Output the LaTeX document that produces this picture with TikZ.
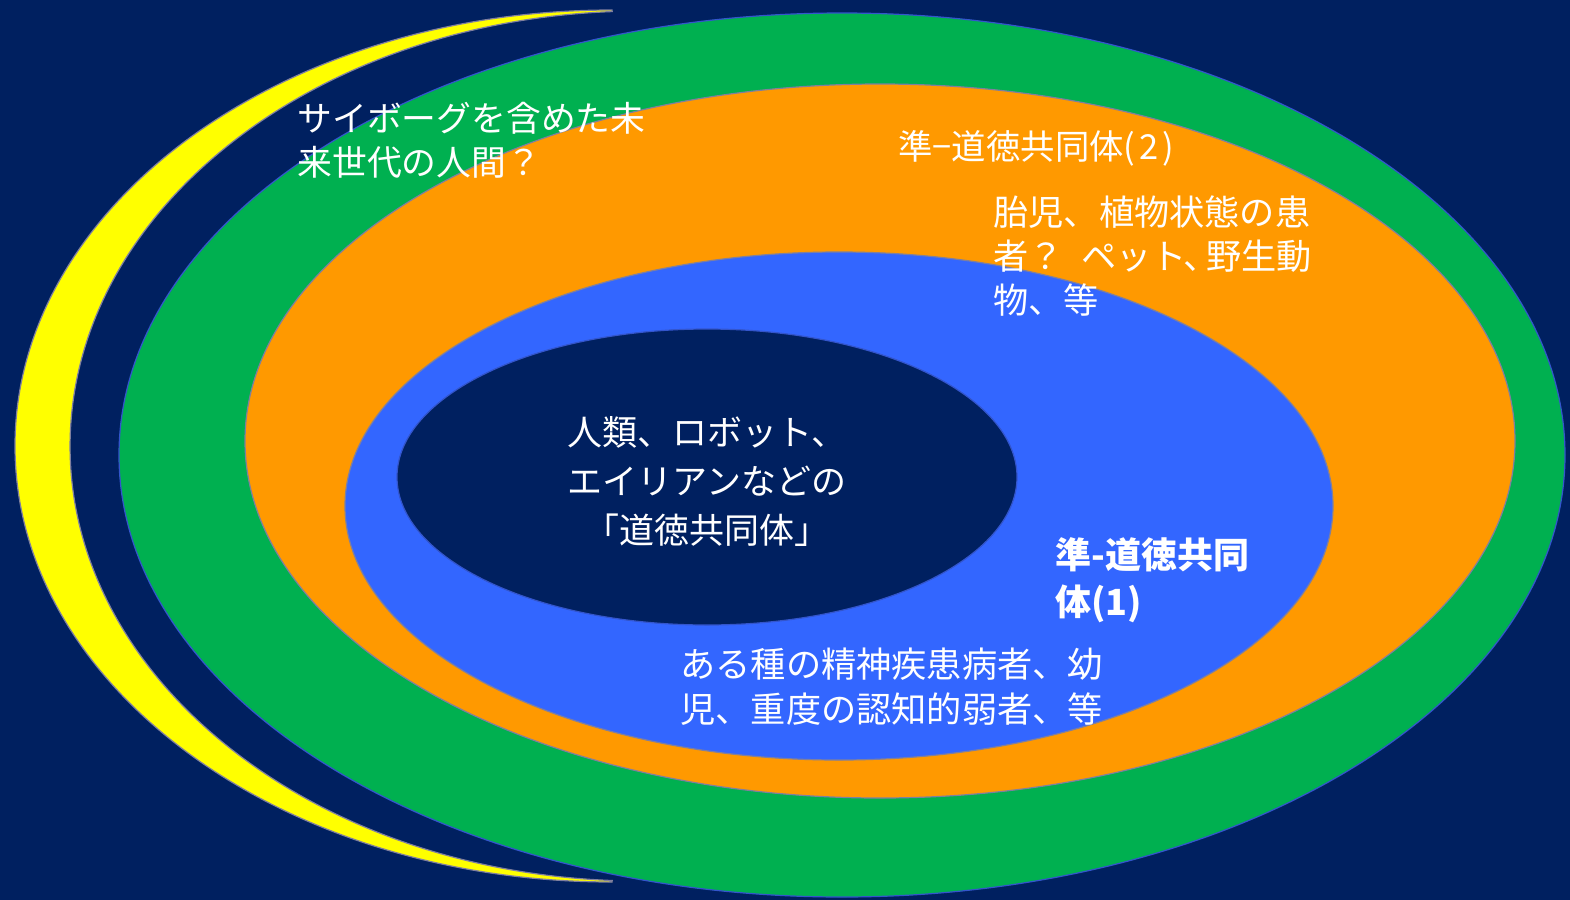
\documentclass[tikz,border=0pt]{standalone}
\usepackage{fontspec}
\setmainfont{Noto Sans CJK JP}
\definecolor{bgnavy}{HTML}{002060}
\definecolor{ggreen}{HTML}{00B050}
\definecolor{gorange}{HTML}{FF9900}
\definecolor{gblue}{HTML}{3366FF}
\definecolor{gyellow}{HTML}{FFFF00}
\definecolor{edgegray}{HTML}{7F7F9F}
\definecolor{edgeblue}{HTML}{3355CC}
\tikzset{
  lbl/.style={text=white, inner sep=0pt, align=left, anchor=west},
  ring/.style={line width=0.6pt}
}
\begin{document}
\begin{tikzpicture}[x=0.5pt,y=0.5pt]
\useasboundingbox (0,0) rectangle (1570,-900);
\fill[bgnavy] (0,0) rectangle (1570,-900);
% crescent
\filldraw[fill=gyellow, draw=edgegray, ring] (612,-10)
  arc[start angle=90, end angle=270, x radius=597, y radius=436]
  -- (612.2,-880.5)
  arc[start angle=267.2, end angle=92.8, x radius=570, y radius=435] -- cycle;
% rings
\filldraw[fill=ggreen, draw=edgeblue, ring] (842,-455) ellipse [x radius=723, y radius=442];
\filldraw[fill=gorange, draw=edgegray, ring] (880,-441) ellipse [x radius=635, y radius=357];
\filldraw[fill=gblue, draw=edgegray, ring] (839,-506) ellipse [x radius=494, y radius=254];
\filldraw[fill=bgnavy, draw=edgeblue, ring] (707,-477) ellipse [x radius=310, y radius=148];
% texts
\node[lbl, font=\fontsize{17.4pt}{22pt}\selectfont] (cyborg) at (297,-140) {サイボーグを含めた未\\来世代の人間？};
\node[lbl, font=\fontsize{17.2pt}{22pt}\selectfont] (quasi2) at (898,-148) {準−道徳共同体(\kern0.12em2\kern0.12em)};
\node[lbl, font=\fontsize{17.6pt}{22pt}\selectfont] (fetus) at (993,-256) {胎児、植物状態の患\\者？\hspace{0.5em}ペット\kern-0.1em、\kern-0.35em野生動\\物、等};
\node[text=white, inner sep=0pt, align=center, font=\fontsize{17.5pt}{24.5pt}\selectfont] (moral) at (707,-481) {人類、ロボット、\\エイリアンなどの\\「道徳共同体」};
\node[lbl, font=\bfseries\fontsize{18pt}{23.5pt}\selectfont] (quasi1) at (1055,-580) {準-道徳共同\\体(1)};
\node[lbl, font=\fontsize{17.6pt}{22.5pt}\selectfont] (mental) at (680,-687) {ある種の精神疾患病者、幼\\児、重度の認知的弱者、等};
\end{tikzpicture}
\end{document}
